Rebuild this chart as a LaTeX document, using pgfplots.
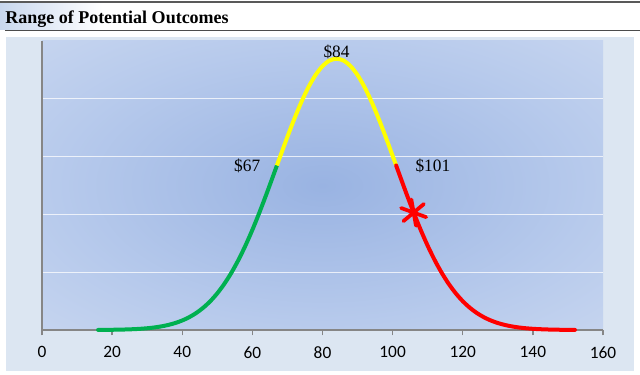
\documentclass[border=0pt]{standalone}
\usepackage{pgfplots}
\pgfplotsset{compat=1.18}
\usepackage{fontspec}
\setmainfont{Liberation Serif}
\newfontfamily\tickfont{Carlito}
\definecolor{bgC}{HTML}{99B3E2}
\definecolor{bgM}{HTML}{B7CAEC}
\definecolor{bgE}{HTML}{DEE6F4}
\definecolor{panel}{HTML}{DCE6F2}
\definecolor{hdr}{HTML}{C8D7EE}
\definecolor{axgray}{HTML}{868686}
\definecolor{cgreen}{HTML}{00B050}
\definecolor{cyellow}{HTML}{FFFF00}
\definecolor{cred}{HTML}{FF0000}
\pgfdeclareradialshading{plotbg}{\pgfpoint{0bp}{0bp}}{color(0bp)=(bgC); color(17bp)=(bgM); color(40bp)=(bgE); color(50bp)=(bgE)}
\begin{document}
\begin{tikzpicture}
\useasboundingbox (-31.5pt,-33.75pt) rectangle (448.5pt,247.5pt);
% header
\shade[left color=hdr, right color=white] (-31.5pt,225.5pt) rectangle (45pt,245.5pt);
\draw[color=black!65, line width=1.5pt] (-31.5pt,246.2pt) -- (448.5pt,246.2pt);
\draw[color=black!70, line width=1.1pt] (-27.75pt,224.6pt) -- (448.5pt,224.6pt);
\node[anchor=base west, inner sep=0pt, font=\fontsize{13.5}{15}\selectfont\bfseries] at (-27.75pt,229.5pt) {Range of Potential Outcomes};
% panel
\fill[panel] (-27pt,-30.75pt) rectangle (444pt,219.75pt);
\begin{scope}
\clip (0pt,0pt) rectangle (420.75pt,216.75pt);
\shade[shading=plotbg] (-84.15pt,-43.35pt) rectangle (504.9pt,260.1pt);
\end{scope}
\begin{axis}[
  at={(0pt,0pt)}, anchor=south west,
  scale only axis, width=420.75pt, height=216.75pt,
  xmin=0, xmax=160, ymin=0, ymax=0.025,
  scaled y ticks=false,
  axis lines=left,
  axis line style={-, color=axgray, line width=1.1pt},
  xtick={0,20,...,160},
  ytick={0.005,0.01,0.015,0.02},
  yticklabels={},
  ytick style={draw=none},
  ymajorgrids=true,
  y grid style={white, opacity=0.75, line width=1pt},
  tick align=outside,
  x tick style={color=axgray, line width=1pt},
  major tick length=4pt,
  xticklabel style={font=\fontsize{13}{15}\selectfont\tickfont, yshift=-5pt},
  /pgf/number format/assume math mode=true,
  clip=false,
]
\addplot[cgreen, line width=3pt, smooth, line cap=round] coordinates {
(16,0.0000079) (18,0.0000125) (20,0.0000196) (22,0.0000303) (24,0.0000463)
(26,0.0000697) (28,0.000103) (30,0.000151) (32,0.000218) (34,0.000311)
(36,0.000436) (38,0.000604) (40,0.000824) (42,0.001109) (44,0.001473)
(46,0.001930) (48,0.002493) (50,0.003176) (52,0.003991) (54,0.004946)
(56,0.006045) (58,0.007287) (60,0.008663) (62,0.010158) (64,0.011746)
(66,0.013398) (67,0.014234)};
\addplot[cyellow, line width=3pt, smooth] coordinates {
(67,0.014234) (68,0.015070) (70,0.016718) (72,0.018292) (74,0.019740)
(76,0.021008) (78,0.022051) (80,0.022827) (82,0.023306) (84,0.023468)
(86,0.023306) (88,0.022827) (90,0.022051) (92,0.021008) (94,0.019740)
(96,0.018292) (98,0.016718) (100,0.015070) (101,0.014234)};
\addplot[cred, line width=3pt, smooth, line cap=round] coordinates {
(101,0.014234) (102,0.013398) (104,0.011746) (106,0.010158) (108,0.008663)
(110,0.007287) (112,0.006045) (114,0.004946) (116,0.003991) (118,0.003176)
(120,0.002493) (122,0.001930) (124,0.001473) (126,0.001109) (128,0.000824)
(130,0.000604) (132,0.000436) (134,0.000311) (136,0.000218) (138,0.000151)
(140,0.000103) (142,0.0000697) (144,0.0000463) (146,0.0000303) (148,0.0000196)
(150,0.0000125) (152,0.0000079)};
\addplot[only marks, mark=asterisk, mark size=10pt, cred, line width=2.8pt, mark options={rotate=10, line cap=round}] coordinates {(106,0.010158)};
\node[anchor=base, font=\fontsize{13}{15}\selectfont] at (axis cs:84,0.023468) [yshift=1pt] {\$84};
\node[anchor=east, font=\fontsize{13}{15}\selectfont] at (axis cs:67,0.014234) [xshift=-9pt, yshift=0pt] {\$67};
\node[anchor=west, font=\fontsize{13}{15}\selectfont] at (axis cs:101,0.014234) [xshift=11pt, yshift=0pt] {\$101};
\end{axis}
\end{tikzpicture}
\end{document}
